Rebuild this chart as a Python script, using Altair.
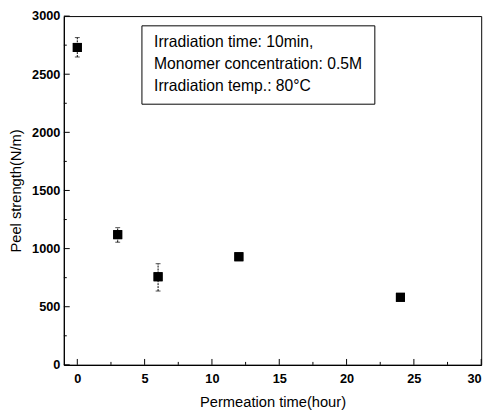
import altair as alt
import pandas as pd

# Data
time_h = [0, 3, 6, 12, 24]
peel = [2730, 1120, 758, 930, 581]
err_lo = [2648, 1055, 635, 915, 555]
err_hi = [2815, 1180, 870, 950, 605]

x_major = [0, 5, 10, 15, 20, 25, 30]
x_minor = [2.5, 7.5, 12.5, 17.5, 22.5, 27.5]
y_major = [0, 500, 1000, 1500, 2000, 2500, 3000]
y_minor = [250, 750, 1250, 1750, 2250, 2750]

note_lines = ["Irradiation time: 10min,", "Monomer concentration: 0.5M", "Irradiation temp.: 80\u00b0C"]
note_y = [2780, 2590, 2400]
box = {"x": 4.8, "x2": 22.1, "y": 2916, "y2": 2242}

W, H = 426, 356
FONT = "Liberation Sans"

df = pd.DataFrame({"t": time_h, "p": peel, "lo": err_lo, "hi": err_hi})
xs = alt.Scale(domain=[-1, 30], nice=False, zero=False)
ys = alt.Scale(domain=[0, 3000], nice=False)

base = alt.Chart(df)

points = base.mark_square(size=85, color="black", opacity=1).encode(
    x=alt.X("t:Q", scale=xs, title="Permeation time(hour)",
            axis=alt.Axis(values=x_major, format="d", ticks=False, grid=False, labelPadding=8,
                          titlePadding=10)),
    y=alt.Y("p:Q", scale=ys, title="Peel strength(N/m)",
            axis=alt.Axis(values=y_major, format="d", ticks=False, grid=False, labelPadding=4,
                          titlePadding=8)),
)
err = base.mark_rule(color="black", strokeWidth=1, strokeDash=[2, 1]).encode(
    x=alt.X("t:Q", scale=xs), y=alt.Y("lo:Q", scale=ys), y2="hi:Q")
cap_lo = base.mark_tick(color="black", orient="horizontal", size=5, thickness=1).encode(
    x=alt.X("t:Q", scale=xs), y=alt.Y("lo:Q", scale=ys))
cap_hi = base.mark_tick(color="black", orient="horizontal", size=5, thickness=1).encode(
    x=alt.X("t:Q", scale=xs), y=alt.Y("hi:Q", scale=ys))

def xticks(vals, length):
    return alt.Chart(pd.DataFrame({"v": vals})).mark_rule(color="black", strokeWidth=1).encode(
        x=alt.X("v:Q", scale=xs), y=alt.value(H), y2=alt.value(H - length))

def yticks(vals, length):
    return alt.Chart(pd.DataFrame({"v": vals})).mark_rule(color="black", strokeWidth=1).encode(
        y=alt.Y("v:Q", scale=ys), x=alt.value(0), x2=alt.value(length))

box_df = pd.DataFrame([box])
rect = alt.Chart(box_df).mark_rect(fill="white", stroke="black", strokeWidth=1).encode(
    x=alt.X("x:Q", scale=xs), x2="x2:Q", y=alt.Y("y:Q", scale=ys), y2="y2:Q")

note_df = pd.DataFrame({"txt": note_lines, "y": note_y, "x": [5.7] * 3})
notes = alt.Chart(note_df).mark_text(align="left", baseline="middle", font=FONT,
                                     fontSize=16, color="black").encode(
    x=alt.X("x:Q", scale=xs), y=alt.Y("y:Q", scale=ys), text="txt:N")

chart = alt.layer(
    points, xticks(x_major, 6), xticks(x_minor, 3), yticks(y_major, 6), yticks(y_minor, 3),
    err, cap_lo, cap_hi, rect, notes, points
).properties(
    width=W, height=H,
    autosize=alt.AutoSizeParams(type="none"),
    padding={"left": 57, "top": 4, "right": 10, "bottom": 50},
).configure(background="white").configure_view(
    stroke="black", strokeWidth=1
).configure_axis(
    domainColor="black", domainWidth=1.2, labelFont=FONT, titleFont=FONT,
    labelFontSize=13, labelFontWeight="bold", labelColor="black",
    titleFontSize=15, titleFontWeight="normal", titleColor="black",
)

chart.save("out.html", embed_options={"renderer": "svg", "actions": False})
